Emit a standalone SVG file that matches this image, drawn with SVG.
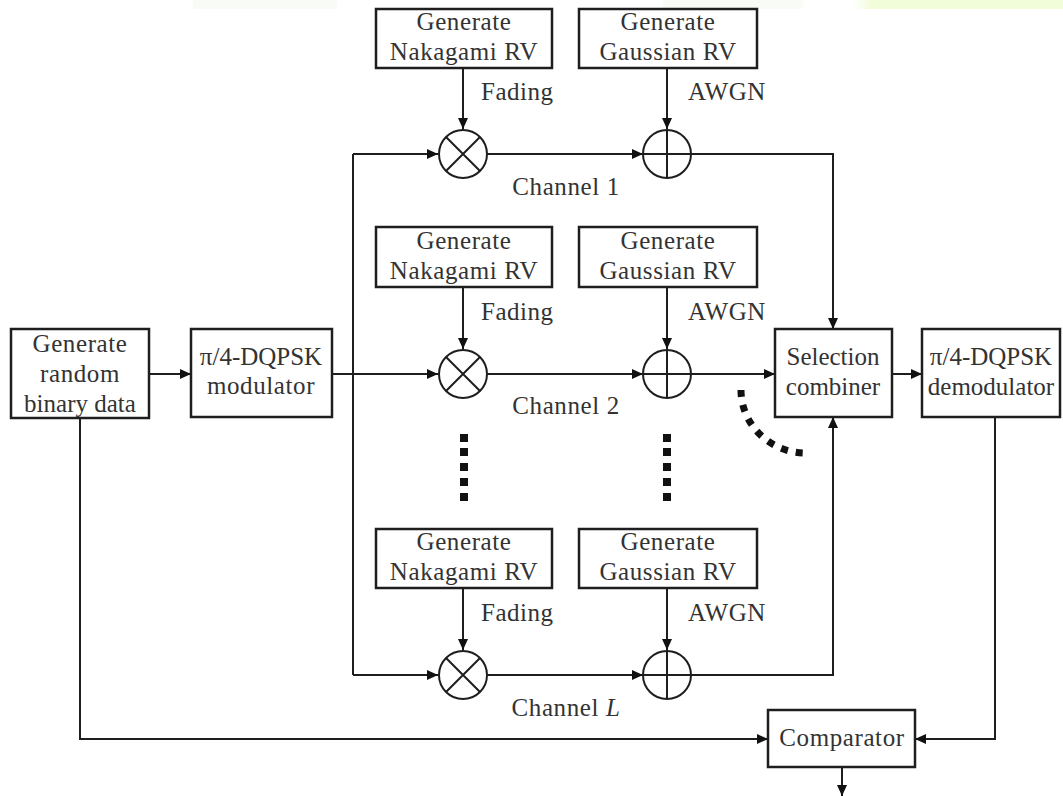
<svg xmlns="http://www.w3.org/2000/svg" width="1063" height="796" viewBox="0 0 1063 796">
<style>
.box{fill:#fff;stroke:#1e1e1e;stroke-width:2.5}
.ln{fill:none;stroke:#1e1e1e;stroke-width:2}
.t{font-family:"Liberation Serif","Times New Roman",serif;font-size:25px;fill:#333;text-anchor:middle;letter-spacing:0.6px}
.n{letter-spacing:0}
.lb{font-family:"Liberation Serif","Times New Roman",serif;font-size:25px;fill:#333;letter-spacing:0.5px}
.dot{fill:#111}
</style>
<defs>
<marker id="arr" markerUnits="userSpaceOnUse" markerWidth="12" markerHeight="10" refX="11" refY="5" orient="auto">
<path d="M0,0 L11,5 L0,10 Z" fill="#111"/>
</marker>
<linearGradient id="yg" x1="0" x2="1" y1="0" y2="0">
<stop offset="0" stop-color="#f1fcd9" stop-opacity="0"/>
<stop offset="0.1" stop-color="#f1fcd9"/>
<stop offset="1" stop-color="#f1fcd9"/>
</linearGradient>
</defs>
<rect width="1063" height="796" fill="#fff"/>
<rect x="193" y="0" width="144" height="9" fill="#f8fbf6"/>
<rect x="663" y="0" width="140" height="9" fill="#f8fbf6"/>
<rect x="852" y="0" width="211" height="9" fill="url(#yg)"/>

<g id="connectors">
<line class="ln" x1="149" y1="374" x2="191" y2="374" marker-end="url(#arr)"/>
<line class="ln" x1="332" y1="374" x2="438" y2="374" marker-end="url(#arr)"/>
<line class="ln" x1="353" y1="154" x2="353" y2="675"/>
<line class="ln" x1="353" y1="154" x2="438" y2="154" marker-end="url(#arr)"/>
<line class="ln" x1="353" y1="675" x2="438" y2="675" marker-end="url(#arr)"/>
<line class="ln" x1="463" y1="68" x2="463" y2="129" marker-end="url(#arr)"/>
<line class="ln" x1="463" y1="288" x2="463" y2="349" marker-end="url(#arr)"/>
<line class="ln" x1="463" y1="589" x2="463" y2="650" marker-end="url(#arr)"/>
<line class="ln" x1="667" y1="68" x2="667" y2="129" marker-end="url(#arr)"/>
<line class="ln" x1="667" y1="288" x2="667" y2="349" marker-end="url(#arr)"/>
<line class="ln" x1="667" y1="589" x2="667" y2="650" marker-end="url(#arr)"/>
<line class="ln" x1="487" y1="154" x2="643" y2="154" marker-end="url(#arr)"/>
<line class="ln" x1="487" y1="374" x2="643" y2="374" marker-end="url(#arr)"/>
<line class="ln" x1="487" y1="675" x2="643" y2="675" marker-end="url(#arr)"/>
<path class="ln" d="M691,154 H833 V329" marker-end="url(#arr)"/>
<line class="ln" x1="691" y1="374" x2="775" y2="374" marker-end="url(#arr)"/>
<path class="ln" d="M691,675 H833 V417" marker-end="url(#arr)"/>
<line class="ln" x1="892" y1="374" x2="922" y2="374" marker-end="url(#arr)"/>
<path class="ln" d="M80,418 V739 H768" marker-end="url(#arr)"/>
<path class="ln" d="M995,417 V739 H915" marker-end="url(#arr)"/>
<line class="ln" x1="842" y1="767" x2="842" y2="796" marker-end="url(#arr)"/>
<path d="M741,390 A65,63 0 0 0 806,453" fill="none" stroke="#111" stroke-width="7" stroke-dasharray="7 8"/>
</g>

<g id="src"><rect class="box" x="11" y="329" width="138" height="89"/>
<text class="t" x="80" y="352">Generate</text><text class="t" x="80" y="382">random</text><text class="t n" x="80" y="412">binary data</text></g>
<g id="mod"><rect class="box" x="191" y="329" width="141" height="88"/>
<text class="t n" x="261" y="365">π/4-DQPSK</text><text class="t" x="261" y="394">modulator</text></g>

<g id="nak1"><rect class="box" x="376" y="9" width="176" height="59"/>
<text class="t" x="464" y="30">Generate</text><text class="t" x="464" y="60">Nakagami RV</text></g>
<g id="gau1"><rect class="box" x="579" y="9" width="178" height="59"/>
<text class="t" x="668" y="30">Generate</text><text class="t" x="668" y="60">Gaussian RV</text></g>
<g id="nak2"><rect class="box" x="376" y="227" width="176" height="60"/>
<text class="t" x="464" y="249">Generate</text><text class="t" x="464" y="279">Nakagami RV</text></g>
<g id="gau2"><rect class="box" x="579" y="227" width="178" height="60"/>
<text class="t" x="668" y="249">Generate</text><text class="t" x="668" y="279">Gaussian RV</text></g>
<g id="nakL"><rect class="box" x="376" y="529" width="176" height="59"/>
<text class="t" x="464" y="550">Generate</text><text class="t" x="464" y="580">Nakagami RV</text></g>
<g id="gauL"><rect class="box" x="579" y="529" width="178" height="59"/>
<text class="t" x="668" y="550">Generate</text><text class="t" x="668" y="580">Gaussian RV</text></g>

<g id="labels">
<text class="lb" x="481" y="100">Fading</text><text class="lb" x="688" y="100">AWGN</text>
<text class="lb" x="481" y="320">Fading</text><text class="lb" x="688" y="320">AWGN</text>
<text class="lb" x="481" y="621">Fading</text><text class="lb" x="688" y="621">AWGN</text>
<text class="t" x="566" y="195">Channel 1</text>
<text class="t" x="566" y="414">Channel 2</text>
<text class="t" x="566" y="716">Channel <tspan font-style="italic">L</tspan></text>
</g>

<g id="mul1"><circle class="ln" cx="463" cy="154" r="24"/><path class="ln" d="M446,137 L480,171 M480,137 L446,171"/></g>
<g id="mul2"><circle class="ln" cx="463" cy="374" r="24"/><path class="ln" d="M446,357 L480,391 M480,357 L446,391"/></g>
<g id="mulL"><circle class="ln" cx="463" cy="675" r="24"/><path class="ln" d="M446,658 L480,692 M480,658 L446,692"/></g>
<g id="add1"><circle class="ln" cx="667" cy="154" r="24"/><path class="ln" d="M667,130 V178 M643,154 H691"/></g>
<g id="add2"><circle class="ln" cx="667" cy="374" r="24"/><path class="ln" d="M667,350 V398 M643,374 H691"/></g>
<g id="addL"><circle class="ln" cx="667" cy="675" r="24"/><path class="ln" d="M667,651 V699 M643,675 H691"/></g>

<g id="vdots">
<rect class="dot" x="460" y="434" width="8" height="8"/><rect class="dot" x="460" y="448" width="8" height="8"/><rect class="dot" x="460" y="463" width="8" height="8"/><rect class="dot" x="460" y="478" width="8" height="8"/><rect class="dot" x="460" y="493" width="8" height="8"/>
<rect class="dot" x="663" y="434" width="8" height="8"/><rect class="dot" x="663" y="448" width="8" height="8"/><rect class="dot" x="663" y="463" width="8" height="8"/><rect class="dot" x="663" y="478" width="8" height="8"/><rect class="dot" x="663" y="493" width="8" height="8"/>
</g>

<g id="comb"><rect class="box" x="775" y="329" width="117" height="88"/>
<text class="t n" x="833" y="365">Selection</text><text class="t n" x="833" y="395">combiner</text></g>
<g id="demod"><rect class="box" x="922" y="329" width="138" height="88"/>
<text class="t n" x="991" y="365">π/4-DQPSK</text><text class="t n" x="991" y="395">demodulator</text></g>
<g id="cmp"><rect class="box" x="768" y="710" width="147" height="57"/>
<text class="t" x="842" y="746">Comparator</text></g>
</svg>
